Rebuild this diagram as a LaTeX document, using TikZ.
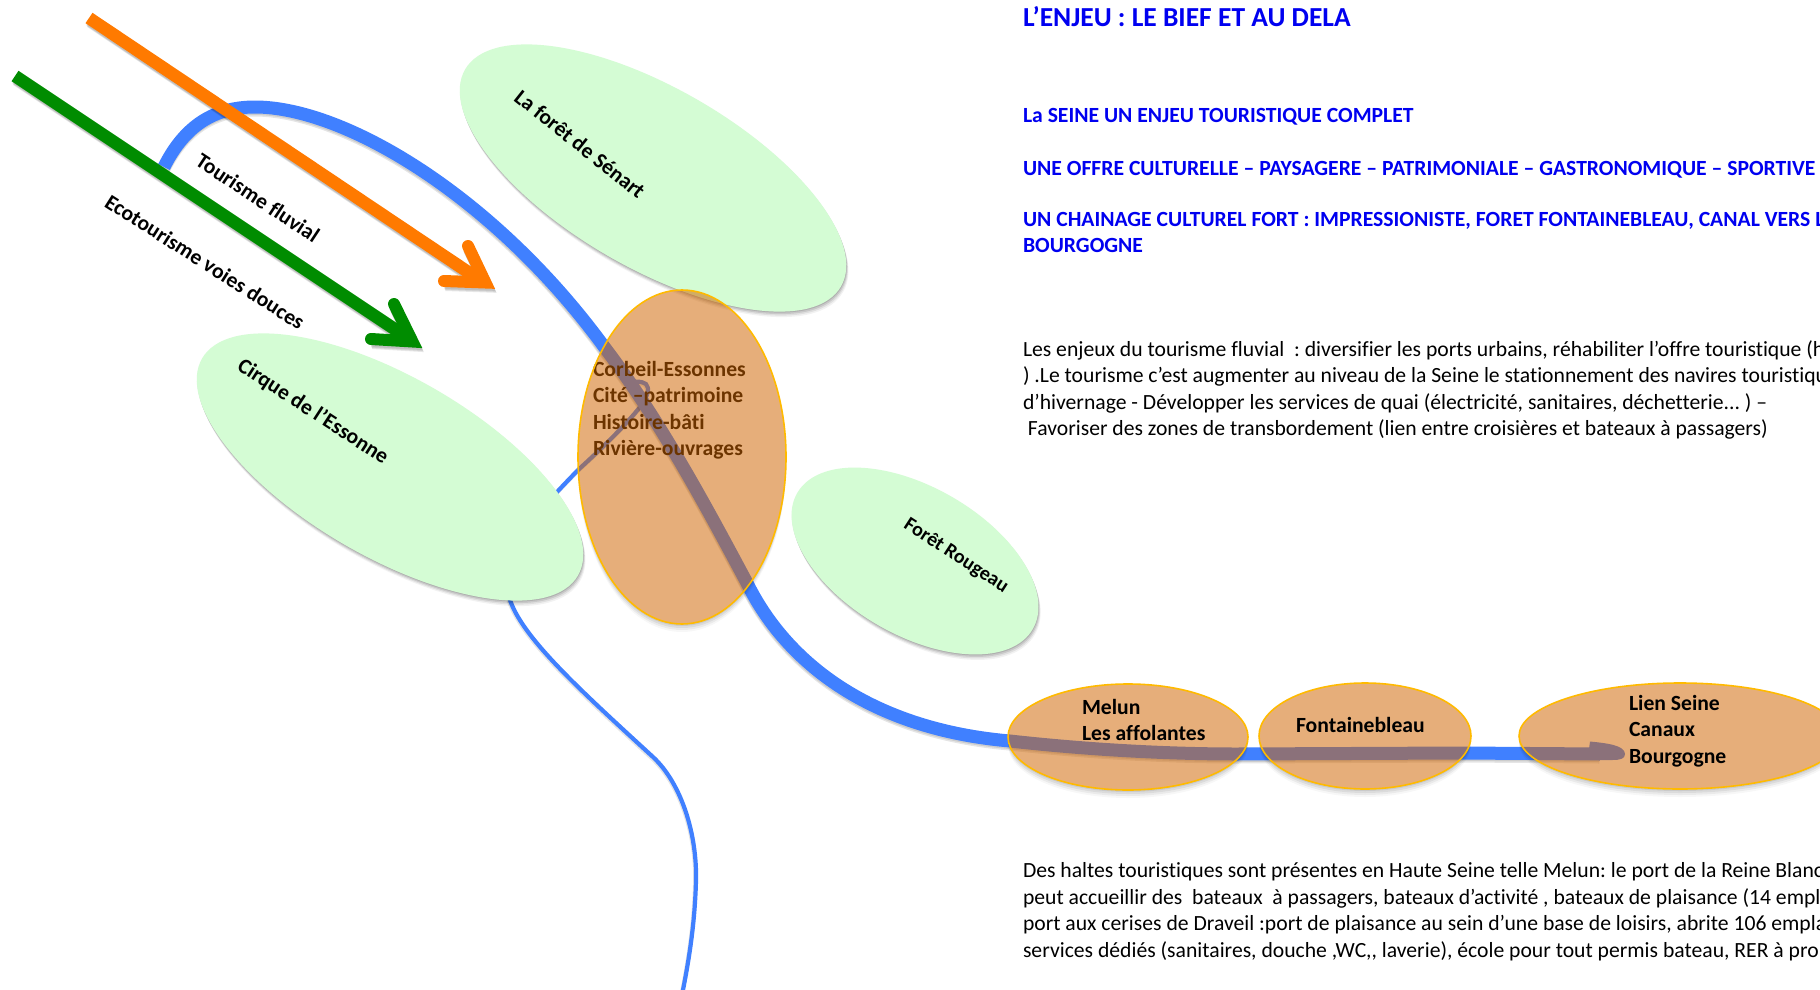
\documentclass[tikz,border=0pt]{standalone}
\usepackage{fontspec}
\setmainfont{Carlito}[Ligatures=NoCommon]
\frenchspacing
\usetikzlibrary{shapes.geometric}
\definecolor{riverblue}{RGB}{64,128,255}
\definecolor{forestgreen}{RGB}{212,252,212}
\definecolor{halteorange}{RGB}{208,101,0}
\definecolor{haltedge}{RGB}{255,186,0}
\definecolor{arroworange}{RGB}{255,122,0}
\definecolor{arrowgreen}{RGB}{0,140,0}
\definecolor{headblue}{RGB}{0,0,240}
\tikzset{
  body/.style={font=\fontsize{21.65}{26.5}\selectfont,inner sep=0pt,outer sep=0pt,align=left,anchor=north west},
  bodybold/.style={body,font=\fontsize{21.65}{26.5}\selectfont\bfseries},
  heading/.style={bodybold,text=headblue},
  slanted/.style={font=\fontsize{21.65}{26}\selectfont\bfseries,inner sep=0pt,outer sep=0pt},
  forest/.style={ellipse,fill=forestgreen,inner sep=0pt,outer sep=0pt},
  halte/.style={ellipse,fill=halteorange,fill opacity=.52,draw=haltedge,line width=1.6pt,inner sep=0pt,outer sep=0pt},
  shade layer/.style={ellipse,fill=black,inner sep=0pt,outer sep=0pt},
  bigriver/.style={draw=riverblue,line width=13pt,line join=round},
  smallriver/.style={draw=riverblue,line width=4.2pt,line join=round},
  rivershade/.style={draw=black,draw opacity=.10,line join=round},
  shaft/.style={line width=12.5pt},
  barbs/.style={line width=12pt,line cap=round,line join=miter,miter limit=10},
  arrowshade/.style={draw=black,draw opacity=.09,line width=12pt,line join=miter,miter limit=10},
}
% forest ellipse with a soft grey shadow
\newcommand{\forestell}[6]{% name, cx, cy, w, h, rot
  \foreach \o/\p in {1/.12,2.5/.10,4/.08,5.5/.05}{
    \node[shade layer,fill opacity=\p,minimum width=#4pt,minimum height=#5pt,rotate=#6] at (#2+.4*\o,#3+\o) {};
  }
  \node[forest,minimum width=#4pt,minimum height=#5pt,rotate=#6] (#1) at (#2,#3) {};
}
% translucent halte ellipse; its shadow stays outside the ellipse
\newcommand{\halteell}[5]{% name, cx, cy, rx, ry
  \begin{scope}[even odd rule]
    \clip (-50,-50) rectangle (2000,1100) (#2,#3) ellipse [x radius=#4,y radius=#5];
    \foreach \o/\p in {2/.08,4/.06,6/.05,8/.03}{
      \fill[black,opacity=\p] (#2,#3+\o) ellipse [x radius=#4,y radius=#5];
    }
  \end{scope}
  \node[halte,minimum width=2*#4 pt,minimum height=2*#5 pt] (#1) at (#2,#3) {};
}
\newcommand{\thinriverpath}{(625,383) .. controls (633,381) and (642,381) .. (646,384)
  .. controls (650,388) and (648,396) .. (640,407)
  .. controls (625,426) and (600,450) .. (578,470)
  .. controls (520,530) and (495,560) .. (510.7,602)
  .. controls (525,640) and (580,690) .. (653,757)
  .. controls (682,784) and (697,835) .. (696,880)
  .. controls (695,920) and (690,955) .. (682,995)}
\newcommand{\mainriverpath}{(164,167) .. controls (185,125) and (215,107) .. (255,107)
  .. controls (345,107) and (495,197) .. (605,348)
  .. controls (660,420) and (708,510) .. (747,583)
  .. controls (790,670) and (880,730) .. (1010,741)
  .. controls (1100,751) and (1180,754) .. (1237,754)
  -- (1462,753) -- (1600,754)}
\begin{document}
\begin{tikzpicture}[x=1pt,y=-1pt]
\useasboundingbox (0,0) rectangle (1820,990);
\begin{scope}
\clip (0,0) rectangle (1820,990);
\fill[white] (0,0) rectangle (1820,990);

% named points of the arrows
\coordinate (orangeStart) at (89,18);
\coordinate (orangeEnd) at (480,280);
\coordinate (orangeTip) at (485.4,282.5);
\coordinate (orangeBarbA) at (468,246);
\coordinate (orangeBarbB) at (444,281);
\coordinate (greenStart) at (15,76);
\coordinate (greenEnd) at (408,338);
\coordinate (greenTip) at (412.4,341.5);
\coordinate (greenBarbA) at (394,304);
\coordinate (greenBarbB) at (371,339);

% thin river
\draw[rivershade,line width=4.2pt,transform canvas={xshift=-.8pt,yshift=-1.5pt}] \thinriverpath;
\draw[smallriver] \thinriverpath;

% main river
\foreach \s in {1.5,3}{
  \draw[rivershade,line width=13pt,transform canvas={xshift=-.5pt,yshift=-\s pt}] \mainriverpath;
}
\draw[bigriver] \mainriverpath;
\fill[riverblue] (1589,749) -- (1590,741.5) .. controls (1605,743) and (1625,745) .. (1625,754)
  .. controls (1625,759) and (1620,760) .. (1612,760) -- (1590,760) -- cycle;

% arrows
\foreach \dx/\dy in {.5/-2,1/-3,1.5/-4}{
  \draw[arrowshade,transform canvas={xshift=\dx pt,yshift=\dy pt}] (orangeStart) -- (orangeEnd) (orangeBarbA) -- (orangeTip) -- (orangeBarbB);
  \draw[arrowshade,transform canvas={xshift=\dx pt,yshift=\dy pt}] (greenStart) -- (greenEnd) (greenBarbA) -- (greenTip) -- (greenBarbB);
}
\draw[arroworange,shaft] (orangeStart) -- (orangeEnd);
\draw[arroworange,barbs] (orangeBarbA) -- (orangeTip) -- (orangeBarbB);
\draw[arrowgreen,shaft] (greenStart) -- (greenEnd);
\draw[arrowgreen,barbs] (greenBarbA) -- (greenTip) -- (greenBarbB);

% forests
\forestell{senart}{653}{178}{434}{180}{-30}
\forestell{cirque}{390}{467}{434}{180}{-30}
\forestell{rougeau}{915}{561}{272}{148}{-30}

% text under the translucent ellipse
\node[bodybold] (corbeil) at (593,357.6) {\strut Corbeil-Essonnes\\\strut Cité –patrimoine\\\strut Histoire-bâti\\\strut Rivière-ouvrages};

% haltes
\halteell{corbeilell}{682}{457}{104}{167}
\halteell{melunell}{1128}{737}{120}{53}
\halteell{fontell}{1365}{736}{106}{53}
\halteell{lienell}{1680}{736}{161}{53}

% labels
\node[bodybold] (melun) at (1082,695.6) {\strut Melun\\\strut Les affolantes};
\node[bodybold] (fontaine) at (1296,713.6) {\strut Fontainebleau};
\node[bodybold] (lien) at (1629,691.6) {\strut Lien Seine\\\strut Canaux\\\strut Bourgogne};

\node[slanted,rotate=-38.5] (lsenart) at (580,144) {La forêt de Sénart};
\node[slanted,rotate=-33] (lcirque) at (313,412) {Cirque de l’Essonne};
\node[slanted,rotate=-33,font=\fontsize{20}{24}\selectfont\bfseries] (lrougeau) at (956,556) {Forêt Rougeau};
\node[slanted,rotate=-33.5] (lfluvial) at (258,198) {Tourisme fluvial};
\node[slanted,rotate=-32.5] (lvoies) at (205,262) {Ecotourisme voies douces};

% right-hand text
\node[heading,font=\fontsize{27.5}{30}\selectfont\bfseries] (title) at (1023,6) {\strut L’ENJEU : LE BIEF ET AU DELA};
\node[heading] (h1) at (1023,103.6) {\strut La SEINE UN ENJEU TOURISTIQUE COMPLET};
\node[heading] (h2) at (1023,156.6) {\strut UNE OFFRE CULTURELLE – PAYSAGERE – PATRIMONIALE – GASTRONOMIQUE – SPORTIVE};
\node[heading] (h3) at (1023,207.6) {\strut UN CHAINAGE CULTUREL FORT : IMPRESSIONISTE, FORET FONTAINEBLEAU, CANAL VERS L\\\strut BOURGOGNE};
\node[body] (p1) at (1023,337.6) {\strut Les enjeux du tourisme fluvial\ \ : diversifier les ports urbains, réhabiliter l’offre touristique (h\\\strut ) .Le tourisme c’est augmenter au niveau de la Seine le stationnement des navires touristiqu\\\strut d’hivernage - Développer les services de quai (électricité, sanitaires, déchetterie... ) –\\\strut\ Favoriser des zones de transbordement (lien entre croisières et bateaux à passagers)};
\node[body] (p2) at (1023,859.3) {\strut Des haltes touristiques sont présentes en Haute Seine telle Melun: le port de la Reine Blanc\\\strut peut accueillir des\ \ bateaux\ \ à passagers, bateaux d’activité , bateaux de plaisance (14 empl\\\strut port aux cerises de Draveil :port de plaisance au sein d’une base de loisirs, abrite 106 empla\\\strut services dédiés (sanitaires, douche ,WC,{}, laverie), école pour tout permis bateau, RER à pro};
\end{scope}
\end{tikzpicture}
\end{document}
